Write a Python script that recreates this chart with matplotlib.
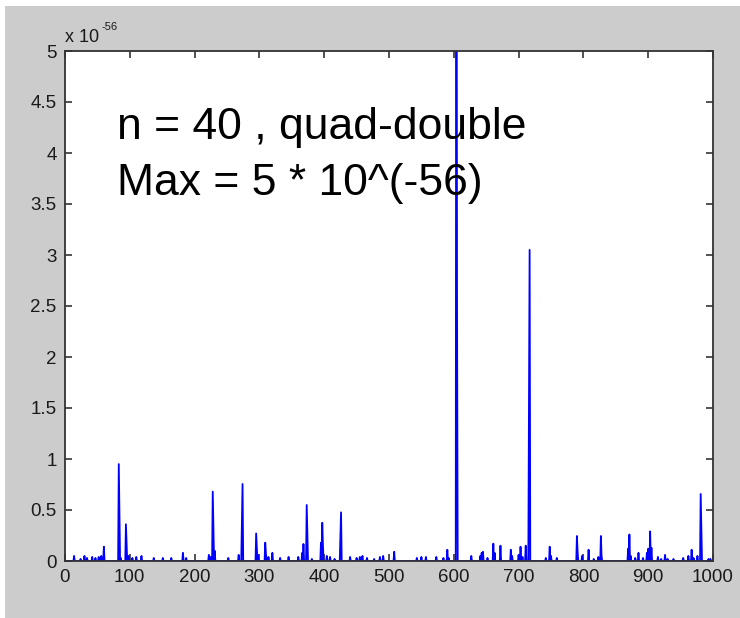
import numpy as np
import matplotlib
matplotlib.use("Agg")
import matplotlib.pyplot as plt
from matplotlib.patches import Rectangle

# ---- data (values in units of 1e-56) ----
n_points = 1000
spike_idx = [14, 24, 30, 34, 42, 47, 52, 56, 60, 83, 84, 86, 94, 95, 98, 104, 110, 118,
             137, 151, 164, 182, 187, 222, 225, 228, 229, 231, 252, 268, 273, 274, 295,
             296, 298, 309, 310, 314, 320, 332, 345, 360, 366, 368, 373, 374, 381, 395,
             397, 398, 404, 409, 416, 425, 426, 440, 450, 455, 459, 466, 477, 486, 491,
             508, 543, 550, 557, 573, 584, 590, 592, 604, 605, 627, 641, 643, 645, 652,
             661, 663, 672, 688, 690, 700, 703, 706, 711, 716, 717, 742, 748, 750, 759,
             790, 791, 798, 808, 816, 823, 827, 828, 869, 871, 873, 880, 885, 892, 898,
             900, 903, 905, 915, 920, 926, 930, 939, 954, 962, 967, 970, 976, 981, 982,
             993, 996]
spike_val = [0.05, 0.02, 0.05, 0.03, 0.04, 0.03, 0.04, 0.05, 0.14, 0.95, 0.46, 0.03, 0.36,
             0.17, 0.05, 0.03, 0.04, 0.05, 0.03, 0.03, 0.03, 0.08, 0.03, 0.06, 0.04, 0.68,
             0.33, 0.10, 0.03, 0.06, 0.375, 0.755, 0.27, 0.14, 0.06, 0.18, 0.08, 0.04,
             0.08, 0.03, 0.04, 0.04, 0.08, 0.167, 0.549, 0.27, 0.02, 0.18, 0.375, 0.167,
             0.05, 0.04, 0.02, 0.25, 0.477, 0.04, 0.03, 0.04, 0.05, 0.03, 0.02, 0.04, 0.05,
             0.09, 0.03, 0.04, 0.04, 0.04, 0.03, 0.11, 0.03, 9.0, 2.5, 0.05, 0.05, 0.08,
             0.09, 0.03, 0.17, 0.08, 0.15, 0.11, 0.05, 0.06, 0.14, 0.04, 0.15, 1.52, 3.05,
             0.03, 0.14, 0.05, 0.03, 0.245, 0.10, 0.05, 0.11, 0.02, 0.04, 0.245, 0.05,
             0.12, 0.26, 0.05, 0.03, 0.08, 0.03, 0.08, 0.12, 0.29, 0.13, 0.04, 0.02, 0.06,
             0.02, 0.02, 0.03, 0.05, 0.11, 0.03, 0.05, 0.657, 0.317, 0.02, 0.02]

x_ticks = [0, 100, 200, 300, 400, 500, 600, 700, 800, 900, 1000]
y_ticks = [0, 0.5, 1, 1.5, 2, 2.5, 3, 3.5, 4, 4.5, 5]
y_tick_labels = ["0", "0.5", "1", "1.5", "2", "2.5", "3", "3.5", "4", "4.5", "5"]

x = np.arange(1, n_points + 1)
y = np.zeros(n_points)
y[np.array(spike_idx) - 1] = spike_val

plt.rcParams['font.family'] = ['Liberation Sans', 'DejaVu Sans']

W, H = 740, 618
fig = plt.figure(figsize=(W / 100, H / 100), dpi=100, facecolor='white')
# grey MATLAB figure background (with thin white strip at top/left)
fig.patches.append(Rectangle((5 / W, 0), 1 - 5 / W, 1 - 6 / H, transform=fig.transFigure,
                             facecolor='#cccccc', edgecolor='none', zorder=-10))

ax = fig.add_axes([65 / W, 1 - 561 / H, (713 - 65) / W, (561 - 51) / H])
ax.set_facecolor('white')
ax.plot(x, y, color='#0000ff', lw=1.3, clip_on=True)
ax.set_xlim(0, 1000)
ax.set_ylim(0, 5)
ax.set_xticks(x_ticks)
ax.set_xticklabels([str(t) for t in x_ticks])
ax.set_yticks(y_ticks)
ax.set_yticklabels(y_tick_labels)
ax.tick_params(direction='in', length=5, width=1.2, color='#333333', labelsize=13.5,
               top=True, right=True, pad=6, labelcolor='#1a1a1a')
for s in ax.spines.values():
    s.set_color('#333333')
    s.set_linewidth(1.3)

ax.text(79.8, 4.134, "n = 40 , quad-double", fontsize=32, va='baseline', ha='left',
        color='black')
ax.text(79.8, 3.588, "Max = 5 * 10^(-56)", fontsize=32, va='baseline', ha='left',
        color='black')

# MATLAB-style exponent label
fig.text(65 / W, 1 - 42 / H, "x 10", fontsize=13, ha='left', va='baseline', color='#1a1a1a')
fig.text(101 / W, 1 - 30 / H, "-56", fontsize=8, ha='left', va='baseline', color='#1a1a1a')

fig.savefig("out.png", dpi=100, facecolor=fig.get_facecolor())
